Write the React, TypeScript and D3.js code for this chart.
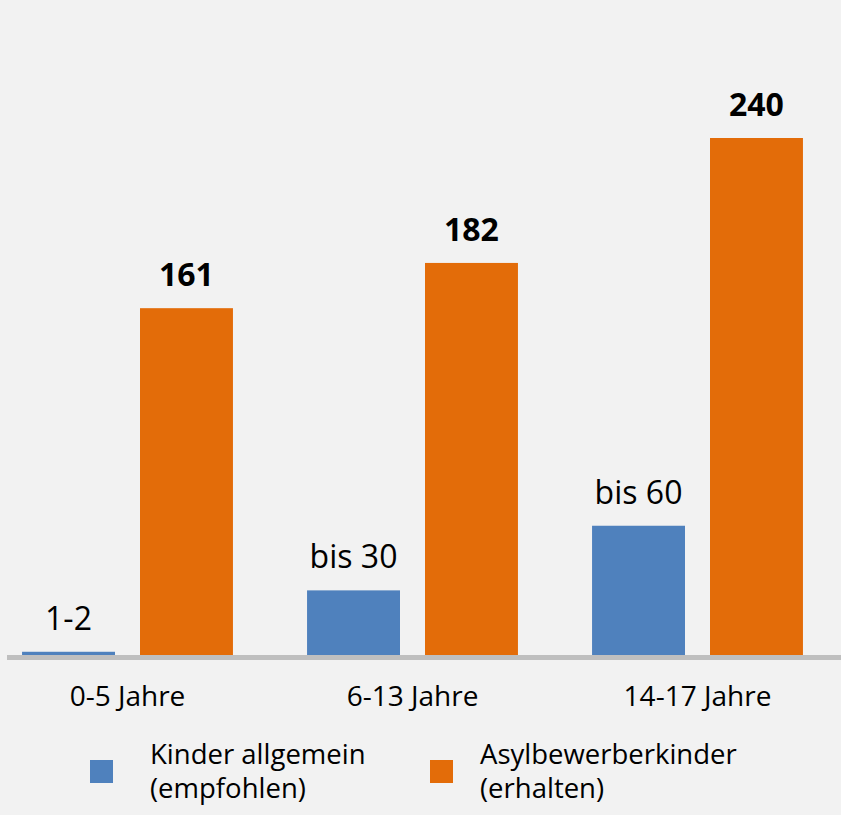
import React from "react";
import * as d3 from "d3";

const categories = ["0-5 Jahre", "6-13 Jahre", "14-17 Jahre"];
const seriesNames = ["Kinder allgemein (empfohlen)", "Asylbewerberkinder (erhalten)"];
const seriesKeys = ["kinder", "asyl"];
const kinderValues = [1.5, 30, 60];
const kinderLabels = ["1-2", "bis 30", "bis 60"];
const asylValues = [161, 182, 240];
const asylLabels = ["161", "182", "240"];
const legendLines = [["Kinder allgemein", "(empfohlen)"], ["Asylbewerberkinder", "(erhalten)"]];
const colors = ["#4f81bd", "#e36c09"];

const W = 841;
const H = 815;
const FONT = "'Open Sans', 'Liberation Sans', sans-serif";

export default function App() {
  const baseY = 655;
  const y = d3.scaleLinear().domain([0, 240]).range([baseY, 138]);
  const x0 = d3.scaleBand<string>().domain(categories).range([-15, 840]).paddingInner(0.26).paddingOuter(0.13);
  const x1 = d3.scaleBand<string>().domain(seriesKeys).range([0, x0.bandwidth()]).paddingInner(0.212).paddingOuter(0);

  const rows = categories.map((c, i) => ({
    cat: c,
    bars: [
      { key: "kinder", value: kinderValues[i], label: kinderLabels[i], bold: false, color: colors[0] },
      { key: "asyl", value: asylValues[i], label: asylLabels[i], bold: true, color: colors[1] },
    ],
  }));

  const legendX = [90, 430];

  return (
    <svg width={W} height={H} style={{ position: "absolute", left: 0, top: 0, display: "block" }} fontFamily={FONT}>
      <rect x={0} y={0} width={W} height={H} fill="#f2f2f2" />
      {rows.map((r) => (
        <g key={r.cat} transform={`translate(${x0(r.cat)},0)`}>
          {r.bars.map((b) => {
            const bx = x1(b.key)!;
            const by = y(b.value);
            return (
              <g key={b.key}>
                <rect x={bx} y={by} width={x1.bandwidth()} height={baseY - by} fill={b.color} />
                <text
                  x={bx + x1.bandwidth() / 2}
                  y={by - 22}
                  textAnchor="middle"
                  fontSize={32}
                  fontWeight={b.bold ? 700 : 400}
                  fill="#000"
                >
                  {b.label}
                </text>
              </g>
            );
          })}
          <text x={x0.bandwidth() / 2} y={706} textAnchor="middle" fontSize={28} fill="#000">
            {r.cat}
          </text>
        </g>
      ))}
      <line x1={7} x2={W} y1={657.5} y2={657.5} stroke="#bfbfbf" strokeWidth={5} />
      {seriesNames.map((s, i) => {
        const tx = legendX[i] + 60 - (i === 1 ? 10 : 0);
        return (
          <g key={s}>
            <rect x={legendX[i]} y={760} width={23} height={23} fill={colors[i]} />
            <text x={tx} y={764} fontSize={27.5} fill="#000">
              {legendLines[i].map((ln, j) => (
                <tspan key={j} x={tx} dy={j === 0 ? 0 : 34}>
                  {ln}
                </tspan>
              ))}
            </text>
          </g>
        );
      })}
    </svg>
  );
}
